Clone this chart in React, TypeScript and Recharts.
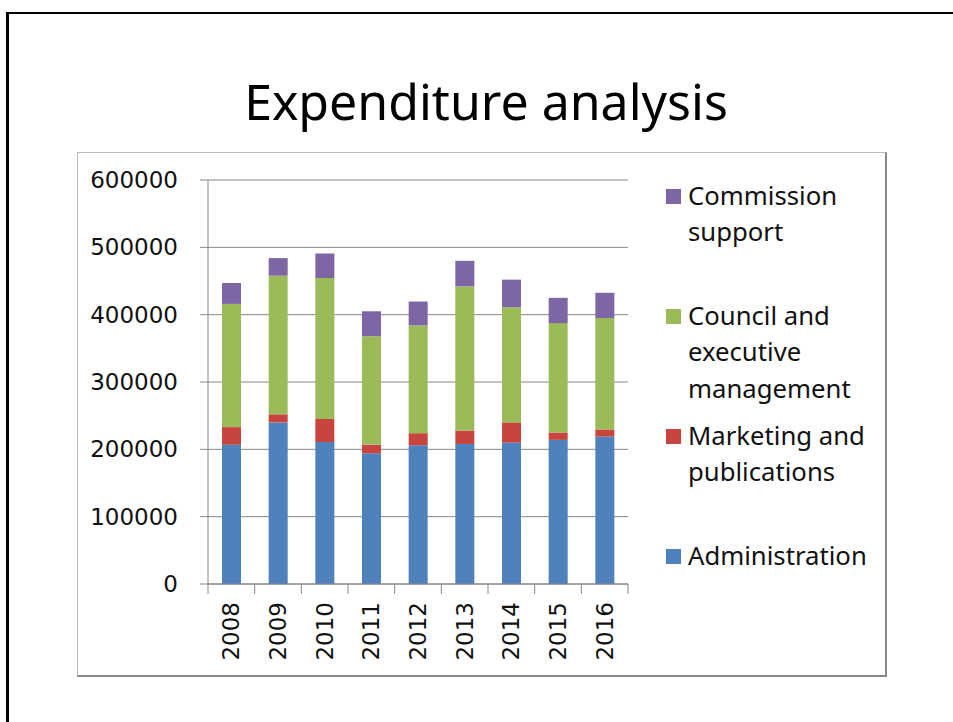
import React from 'react';
import { BarChart, Bar, XAxis, YAxis, CartesianGrid } from 'recharts';

const years = ['2008', '2009', '2010', '2011', '2012', '2013', '2014', '2015', '2016'];
const administration = [207000, 240000, 211000, 194000, 206000, 208000, 210000, 214000, 219000];
const marketing = [26000, 12000, 34000, 13000, 18000, 20000, 30000, 11000, 10500];
const council = [183000, 206000, 209500, 161000, 160000, 214000, 171000, 162500, 165500];
const commission = [31000, 26000, 36500, 37000, 35500, 38000, 41000, 37500, 37500];
const yTicks = [0, 100000, 200000, 300000, 400000, 500000, 600000];

const title = 'Expenditure analysis';

const series = [
  { key: 'administration', name: 'Administration', color: '#4F81BD', values: administration },
  { key: 'marketing', name: 'Marketing and publications', color: '#C8453F', values: marketing },
  { key: 'council', name: 'Council and executive management', color: '#9BBB59', values: council },
  { key: 'commission', name: 'Commission support', color: '#7E65A3', values: commission },
];

const data = years.map((year, i) => {
  const row: Record<string, any> = { year };
  series.forEach((s) => {
    row[s.key] = s.values[i];
  });
  return row;
});

const XTick = (props: any) => {
  const { x, y, payload, index, visibleTicksCount, width } = props;
  const half = width / visibleTicksCount / 2;
  const axisY = y - 18;
  return (
    <g>
      <line x1={x - half} x2={x - half} y1={axisY} y2={axisY + 10} stroke="#868686" />
      {index === visibleTicksCount - 1 && (
        <line x1={x + half} x2={x + half} y1={axisY} y2={axisY + 10} stroke="#868686" />
      )}
      <text
        x={x}
        y={y}
        transform={`rotate(-90, ${x}, ${y})`}
        textAnchor="end"
        dominantBaseline="central"
        fontFamily="DejaVu Sans"
        fontSize={23}
        fill="#111"
      >
        {payload.value}
      </text>
    </g>
  );
};

export default function App() {
  const legendItems = [...series].reverse();
  return (
    <div style={{ position: 'absolute', left: 0, top: 0, width: 953, height: 722, background: '#fff', overflow: 'hidden' }}>
      <div
        style={{
          position: 'absolute',
          left: 6,
          top: 12,
          width: 960,
          height: 720,
          borderLeft: '3px solid #000',
          borderTop: '2px solid #000',
        }}
      />
      <div
        style={{
          position: 'absolute',
          left: 0,
          width: 972,
          top: 77,
          textAlign: 'center',
          fontFamily: 'Noto Sans',
          fontSize: 50,
          lineHeight: '49px',
          color: '#000',
          whiteSpace: 'nowrap',
        }}
      >
        {title}
      </div>
      <div
        style={{
          position: 'absolute',
          left: 77,
          top: 152,
          width: 810,
          height: 525,
          boxSizing: 'border-box',
          borderTop: '1px solid #bbb',
          borderLeft: '1px solid #bbb',
          borderRight: '2px solid #888',
          borderBottom: '2px solid #888',
        }}
      />
      <div style={{ position: 'absolute', left: 77, top: 152 }}>
        <BarChart
          width={810}
          height={525}
          data={data}
          margin={{ top: 28, right: 259, bottom: 13, left: 0 }}
          barCategoryGap="30%"
        >
          <CartesianGrid vertical={false} stroke="#868686" strokeWidth={1} />
          <XAxis
            dataKey="year"
            height={80}
            axisLine={{ stroke: '#868686' }}
            tickLine={{ stroke: 'transparent' }}
            tickSize={10}
            tickMargin={8}
            interval={0}
            tick={<XTick />}
          />
          <YAxis
            width={131}
            domain={[0, 600000]}
            ticks={yTicks}
            interval={0}
            axisLine={{ stroke: '#868686' }}
            tickLine={{ stroke: '#868686' }}
            tickSize={8}
            tickMargin={22}
            tick={{ fontFamily: 'DejaVu Sans', fontSize: 23, fill: '#111' }}
          />
          {series.map((s) => (
            <Bar key={s.key} dataKey={s.key} name={s.name} stackId="a" fill={s.color} isAnimationActive={false} />
          ))}
        </BarChart>
      </div>
      <div style={{ position: 'absolute', left: 666, top: 177.75 }}>
        {legendItems.map((s) => (
          <div key={s.key} style={{ height: 120, display: 'flex', alignItems: 'flex-start' }}>
            <div style={{ width: 15, height: 15, marginTop: 11, background: s.color, flexShrink: 0 }} />
            <div
              style={{
                marginLeft: 7,
                width: 200,
                fontFamily: 'Noto Sans',
                fontSize: 25.7,
                lineHeight: '36.5px',
                color: '#111',
              }}
            >
              {s.name}
            </div>
          </div>
        ))}
      </div>
    </div>
  );
}
